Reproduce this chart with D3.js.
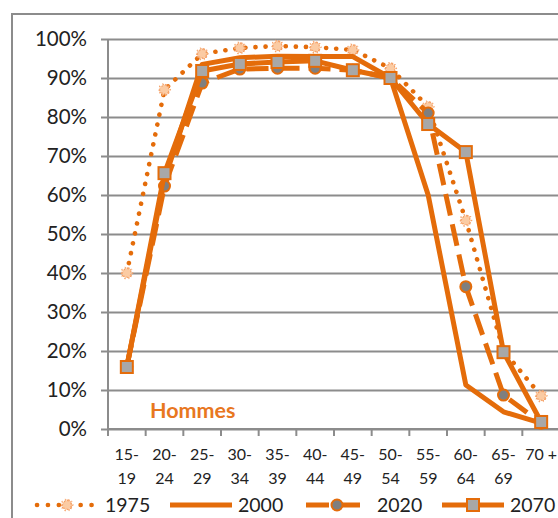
<!DOCTYPE html>
<html>
<head>
<meta charset="utf-8">
<script src="https://cdn.jsdelivr.net/npm/d3@7"></script>
<style>
  html, body { margin: 0; padding: 0; background: #fff; overflow: hidden; }
  svg { display: block; }
</style>
</head>
<body>
<svg id="chart" width="558" height="518"></svg>
<script>
// Taux d'activité des hommes par tranche d'âge
const ageGroups = ["15-19", "20-24", "25-29", "30-34", "35-39", "40-44", "45-49", "50-54", "55-59", "60-64", "65-69", "70 +"];
const rate1975 = [0.40, 0.87, 0.962, 0.977, 0.982, 0.979, 0.972, 0.925, 0.826, 0.535, 0.20, 0.085];
const rate2000 = [0.16, 0.64, 0.935, 0.952, 0.956, 0.955, 0.955, 0.90, 0.60, 0.113, 0.044, 0.015];
const rate2020 = [0.16, 0.623, 0.887, 0.923, 0.925, 0.925, 0.92, 0.90, 0.81, 0.365, 0.087, 0.015];
const rate2070 = [0.159, 0.656, 0.918, 0.936, 0.941, 0.944, 0.92, 0.90, 0.782, 0.71, 0.197, 0.018];
const yTicks = [0, 0.1, 0.2, 0.3, 0.4, 0.5, 0.6, 0.7, 0.8, 0.9, 1.0];
const legendYears = ["1975", "2000", "2020", "2070"];

const orange = "#E46C0A";
const grid = "#8C8C8C";
const font = "Lato, 'Open Sans', sans-serif";

const svg = d3.select("#chart");

// outer frame of the chart object
svg.append("path")
  .attr("d", "M12,518 L12,14 L560,14")
  .attr("fill", "none").attr("stroke", grid).attr("stroke-width", 2);

const x = d3.scaleBand().domain(ageGroups).range([108, 560]).paddingInner(0).paddingOuter(0);
const y = d3.scaleLinear().domain([0, 1]).range([429, 39]);
const cx = d => x(d) + x.bandwidth() / 2;

// horizontal gridlines + y axis
const yAxis = d3.axisLeft(y).tickValues(yTicks).tickFormat(d3.format(".0%"))
  .tickSize(-(560 - 108)).tickSizeOuter(0).tickPadding(21);
const gy = svg.append("g").attr("transform", "translate(108,0)").call(yAxis);
gy.select(".domain").remove();
gy.selectAll(".tick line").attr("x1", -7).attr("stroke", grid).attr("stroke-width", 2);
gy.selectAll(".tick text").attr("font-family", font).attr("font-size", 20.5).attr("fill", "#222");

// vertical axis line
svg.append("line").attr("x1", 108).attr("x2", 108).attr("y1", 39).attr("y2", 429)
  .attr("stroke", grid).attr("stroke-width", 2);

// x axis with tick marks at category boundaries
svg.append("line").attr("x1", 108).attr("x2", 560).attr("y1", 429).attr("y2", 429)
  .attr("stroke", grid).attr("stroke-width", 2);
const bounds = ageGroups.map(d => x(d)).concat([x(ageGroups[ageGroups.length - 1]) + x.bandwidth()]);
svg.append("g").selectAll("line").data(bounds).join("line")
  .attr("x1", d => d).attr("x2", d => d).attr("y1", 429).attr("y2", 436)
  .attr("stroke", grid).attr("stroke-width", 2);

// category labels split over two lines
const lab = svg.append("g").selectAll("text").data(ageGroups).join("text")
  .attr("x", d => cx(d)).attr("text-anchor", "middle")
  .attr("font-family", font).attr("font-size", 16).attr("fill", "#222");
lab.each(function(d) {
  const t = d3.select(this);
  const parts = d.includes("-") ? [d.split("-")[0] + "-", d.split("-")[1]] : [d];
  parts.forEach((p, i) => t.append("tspan").attr("x", cx(d)).attr("y", 460 + i * 24).text(p));
});

// "Hommes" title inside plot
svg.append("text").attr("x", 150).attr("y", 418)
  .attr("font-family", font).attr("font-weight", "bold").attr("font-size", 21.5)
  .attr("fill", "#E8771F").text("Hommes");

const line = d3.line().x((d, i) => cx(ageGroups[i])).y(d => y(d));

// soft burst marker used for 1975
const burstPts = d3.range(20).map(i => {
  const a = i / 20 * 2 * Math.PI;
  const r = i % 2 ? 4.2 : 6;
  return [r * Math.cos(a), r * Math.sin(a)];
});
const burst = d3.line().curve(d3.curveCardinalClosed)(burstPts);
function starMarker(g, px, py) {
  g.append("path").attr("d", burst).attr("transform", `translate(${px},${py})`)
    .attr("fill", "#FBCBA3").attr("stroke", "#F5A066").attr("stroke-width", 1.3)
    .attr("stroke-dasharray", "1.6,1.2");
}
function circleMarker(g, px, py) {
  g.append("circle").attr("cx", px).attr("cy", py).attr("r", 5.5)
    .attr("fill", "#7F7F7F").attr("stroke", orange).attr("stroke-width", 2);
}
function squareMarker(g, px, py) {
  g.append("rect").attr("x", px - 6).attr("y", py - 6).attr("width", 12).attr("height", 12)
    .attr("fill", "#A8A8A8").attr("stroke", orange).attr("stroke-width", 2);
}

const series = [
  { name: "1975", values: rate1975, width: 4.6, dash: "0.1,10", cap: "round", marker: starMarker },
  { name: "2000", values: rate2000, width: 5, dash: null, cap: "butt", marker: null },
  { name: "2020", values: rate2020, width: 5, dash: "22,9", cap: "butt", marker: circleMarker },
  { name: "2070", values: rate2070, width: 5, dash: null, cap: "butt", marker: squareMarker }
];

const plot = svg.append("g");
series.forEach(s => {
  plot.append("path").attr("d", line(s.values)).attr("fill", "none")
    .attr("stroke", orange).attr("stroke-width", s.width)
    .attr("stroke-linejoin", "round").attr("stroke-linecap", s.cap)
    .attr("stroke-dasharray", s.dash);
  if (s.marker) {
    const mg = plot.append("g");
    s.values.forEach((v, i) => s.marker(mg, cx(ageGroups[i]), y(v)));
  }
});

// legend
const legendItems = [
  { x0: 37, x1: 97, tx: 105 },
  { x0: 170, x1: 232, tx: 238 },
  { x0: 306, x1: 368, tx: 377 },
  { x0: 442, x1: 504, tx: 510 }
];
const lg = svg.append("g");
const ly = 505;
series.forEach((s, i) => {
  const it = legendItems[i];
  lg.append("line").attr("x1", it.x0).attr("x2", it.x1).attr("y1", ly).attr("y2", ly)
    .attr("stroke", orange).attr("stroke-width", s.width)
    .attr("stroke-linecap", s.name === "1975" ? "round" : "butt")
    .attr("stroke-dasharray", s.name === "1975" ? "0.1,10.8" : (s.name === "2020" ? "23,8" : null));
  if (s.marker) s.marker(lg, (it.x0 + it.x1) / 2, ly);
  lg.append("text").attr("x", it.tx).attr("y", ly + 7)
    .attr("font-family", font).attr("font-size", 19.5).attr("fill", "#222")
    .text(legendYears[i]);
});
</script>
</body>
</html>
